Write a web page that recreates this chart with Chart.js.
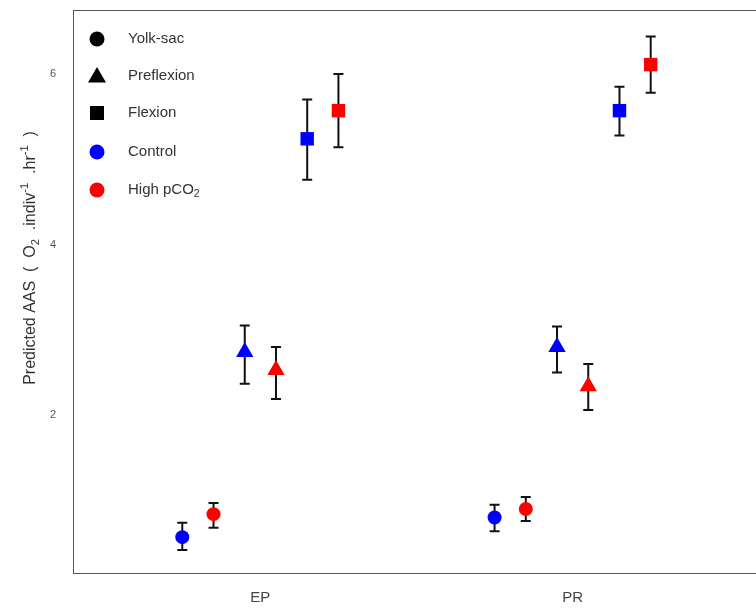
<!DOCTYPE html>
<html>
<head>
<meta charset="utf-8">
<script src="https://cdn.jsdelivr.net/npm/chart.js@4.4.1/dist/chart.umd.min.js"></script>
<style>
  html, body { margin: 0; padding: 0; background: #fff; overflow: hidden; }
  #wrap { width: 770px; height: 608px; }
</style>
</head>
<body>
<div id="wrap"><canvas id="chartAAS" width="770" height="608"></canvas></div>
<script>
// groups on the x axis
var groups = ['EP', 'PR'];
var yTicks = [2, 4, 6];

// predicted AAS, one array per stage x treatment (EP, PR)
var yolkCtrl   = [0.57, 0.80];
var yolkCtrlLo = [0.42, 0.64];
var yolkCtrlHi = [0.74, 0.95];
var yolkHigh   = [0.84, 0.90];
var yolkHighLo = [0.68, 0.76];
var yolkHighHi = [0.97, 1.04];

var preCtrl   = [2.74, 2.80];
var preCtrlLo = [2.37, 2.50];
var preCtrlHi = [3.05, 3.04];
var preHigh   = [2.53, 2.34];
var preHighLo = [2.19, 2.06];
var preHighHi = [2.80, 2.60];

var flexCtrl   = [5.24, 5.57];
var flexCtrlLo = [4.76, 5.28];
var flexCtrlHi = [5.70, 5.85];
var flexHigh   = [5.57, 6.11];
var flexHighLo = [5.14, 5.78];
var flexHighHi = [6.00, 6.44];

var BLUE = '#0000ff';
var RED = '#ff0000';
var FONT = '"Liberation Sans", Arial, sans-serif';

// dodge: six series spread around each group position
function series(mean, lo, hi, shift, color, style, radius) {
  return {
    data: mean.map(function (v, i) { return { x: i + 1 + shift, y: v }; }),
    lo: lo,
    hi: hi,
    backgroundColor: color,
    borderColor: color,
    borderWidth: 0,
    pointStyle: style,
    pointRadius: radius,
    pointHoverRadius: radius,
    showLine: false
  };
}

var datasets = [
  series(yolkCtrl, yolkCtrlLo, yolkCtrlHi, -0.25, BLUE, 'circle', 7),
  series(yolkHigh, yolkHighLo, yolkHighHi, -0.15, RED, 'circle', 7),
  series(preCtrl, preCtrlLo, preCtrlHi, -0.05, BLUE, 'triangle', 10),
  series(preHigh, preHighLo, preHighHi, 0.05, RED, 'triangle', 10),
  series(flexCtrl, flexCtrlLo, flexCtrlHi, 0.15, BLUE, 'rect', 9.5),
  series(flexHigh, flexHighLo, flexHighHi, 0.25, RED, 'rect', 9.5)
];

// error bars, drawn under the markers
var errorBars = {
  id: 'errorBars',
  beforeDatasetsDraw: function (chart) {
    var ctx = chart.ctx, y = chart.scales.y;
    ctx.save();
    ctx.strokeStyle = '#111';
    ctx.lineWidth = 2;
    chart.data.datasets.forEach(function (ds, di) {
      chart.getDatasetMeta(di).data.forEach(function (pt, i) {
        var top = y.getPixelForValue(ds.hi[i]);
        var bot = y.getPixelForValue(ds.lo[i]);
        ctx.beginPath();
        ctx.moveTo(pt.x, top); ctx.lineTo(pt.x, bot);
        ctx.moveTo(pt.x - 5, top); ctx.lineTo(pt.x + 5, top);
        ctx.moveTo(pt.x - 5, bot); ctx.lineTo(pt.x + 5, bot);
        ctx.stroke();
      });
    });
    ctx.restore();
  }
};

// text with sub/superscript pieces: [text, shift] where shift -1 sub, 1 sup
function richText(ctx, parts, x, y, size) {
  parts.forEach(function (p) {
    var s = p[1] ? size * 0.7 : size;
    ctx.font = s + 'px ' + FONT;
    var dy = p[1] === 1 ? -size * 0.4 : (p[1] === -1 ? size * 0.3 : 0);
    ctx.fillText(p[0], x, y + dy);
    x += ctx.measureText(p[0]).width;
  });
  return x;
}
function richWidth(ctx, parts, size) {
  var w = 0;
  parts.forEach(function (p) {
    ctx.font = (p[1] ? size * 0.7 : size) + 'px ' + FONT;
    w += ctx.measureText(p[0]).width;
  });
  return w;
}

// frame, y title and the inset legend
var decorations = {
  id: 'decorations',
  afterDraw: function (chart) {
    var ctx = chart.ctx, a = chart.chartArea;
    ctx.save();
    ctx.strokeStyle = '#555';
    ctx.lineWidth = 1;
    ctx.strokeRect(a.left + 0.5, a.top + 0.5, a.right - a.left, a.bottom - a.top);

    // y axis title
    var title = [['Predicted AAS  (  O', 0], ['2', -1], ['  .indiv', 0], ['-1', 1], ['  .hr', 0], ['-1', 1], ['  )', 0]];
    ctx.translate(31, 258);
    ctx.rotate(-Math.PI / 2);
    ctx.fillStyle = '#333';
    ctx.textBaseline = 'middle';
    var tw = richWidth(ctx, title, 16);
    richText(ctx, title, -tw / 2, 0, 16);
    ctx.restore();

    // legend
    ctx.save();
    ctx.textBaseline = 'middle';
    var items = [
      { label: [['Yolk-sac', 0]], style: 'circle', color: '#000', y: 39 },
      { label: [['Preflexion', 0]], style: 'triangle', color: '#000', y: 76 },
      { label: [['Flexion', 0]], style: 'rect', color: '#000', y: 113 },
      { label: [['Control', 0]], style: 'circle', color: BLUE, y: 152 },
      { label: [['High pCO', 0], ['2', -1]], style: 'circle', color: RED, y: 190 }
    ];
    items.forEach(function (it) {
      ctx.fillStyle = it.color;
      ctx.beginPath();
      var sx = 97;
      if (it.style === 'circle') {
        ctx.arc(sx, it.y, 7.5, 0, Math.PI * 2);
      } else if (it.style === 'triangle') {
        ctx.moveTo(sx, it.y - 9);
        ctx.lineTo(sx + 9, it.y + 6.5);
        ctx.lineTo(sx - 9, it.y + 6.5);
        ctx.closePath();
      } else {
        ctx.rect(sx - 7, it.y - 7, 14, 14);
      }
      ctx.fill();
      ctx.fillStyle = '#333';
      richText(ctx, it.label, 128, it.y, 15);
    });
    ctx.restore();
  }
};

var ctx = document.getElementById('chartAAS').getContext('2d');
new Chart(ctx, {
  type: 'scatter',
  data: { datasets: datasets },
  plugins: [errorBars, decorations],
  options: {
    responsive: false,
    animation: false,
    layout: { padding: { top: 9, right: 4, left: 0, bottom: 0 } },
    plugins: {
      legend: { display: false },
      tooltip: { enabled: false }
    },
    scales: {
      x: {
        type: 'linear',
        min: 0.4,
        max: 2.6,
        afterBuildTicks: function (s) {
          s.ticks = groups.map(function (g, i) { return { value: i + 1 }; });
        },
        afterFit: function (s) {
          s.height = 35;
          s.paddingLeft = 0;
          s.paddingRight = 0;
        },
        grid: { display: false, drawTicks: true, tickLength: 5, tickColor: '#555' },
        border: { display: true, color: '#555' },
        ticks: {
          padding: 11,
          color: '#444',
          font: { family: FONT, size: 15 },
          callback: function (v) { return groups[Math.round(v) - 1]; }
        }
      },
      y: {
        min: 0.15,
        max: 6.75,
        afterBuildTicks: function (s) {
          s.ticks = yTicks.map(function (v) { return { value: v }; });
        },
        afterFit: function (s) {
          s.width = 73;
          s.paddingTop = 0;
          s.paddingBottom = 0;
        },
        grid: { display: false, drawTicks: true, tickLength: 5, tickColor: '#555' },
        border: { display: true, color: '#555' },
        ticks: {
          padding: 12,
          color: '#555',
          font: { family: FONT, size: 11 }
        }
      }
    }
  }
});
</script>
</body>
</html>
